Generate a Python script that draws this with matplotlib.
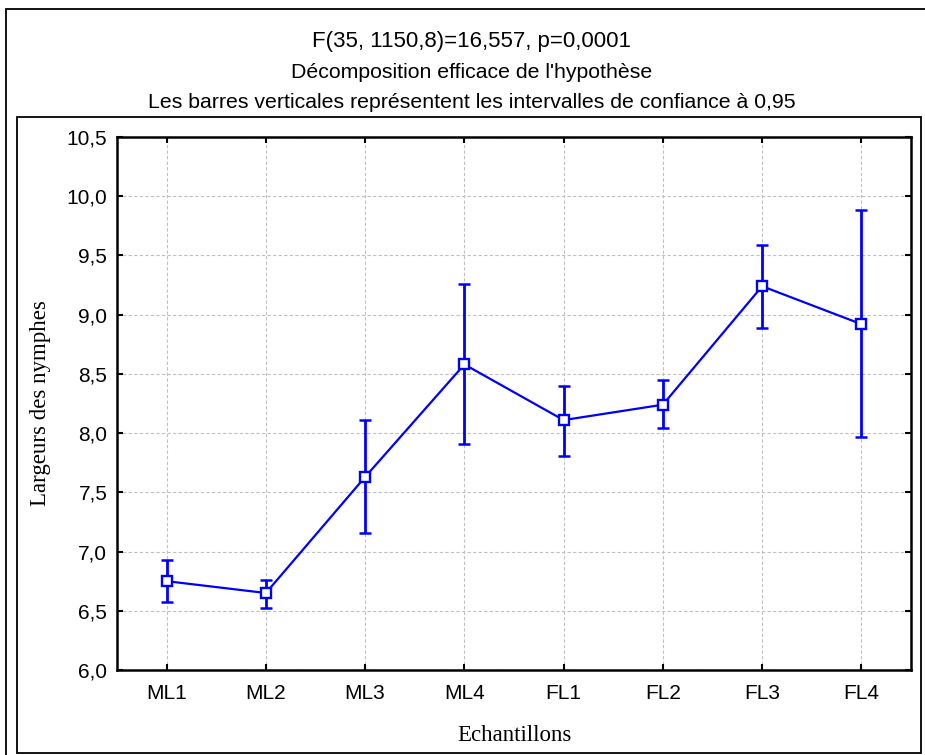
import matplotlib.pyplot as plt
from matplotlib.patches import Rectangle

# group means and 95% confidence limits
groupes = ["ML1", "ML2", "ML3", "ML4", "FL1", "FL2", "FL3", "FL4"]
moyennes = [6.75, 6.65, 7.63, 8.58, 8.11, 8.24, 9.24, 8.92]
bornes_inf = [6.57, 6.52, 7.16, 7.91, 7.81, 8.04, 8.89, 7.97]
bornes_sup = [6.93, 6.76, 8.11, 9.26, 8.40, 8.45, 9.59, 9.88]
y_ticks = [6.0, 6.5, 7.0, 7.5, 8.0, 8.5, 9.0, 9.5, 10.0, 10.5]
y_labels = ["6,0", "6,5", "7,0", "7,5", "8,0", "8,5", "9,0", "9,5", "10,0", "10,5"]

titres = [
    "F(35, 1150,8)=16,557, p=0,0001",
    "Décomposition efficace de l'hypothèse",
    "Les barres verticales représentent les intervalles de confiance à 0,95",
]

sans = "Liberation Sans"
serif = "Liberation Serif"

W, H = 925, 755
fig = plt.figure(figsize=(W / 100, H / 100), dpi=100)

def fx(px):
    return px / W

def fy(py):
    return 1 - py / H

# frames around the whole graph and around the plot area
fig.patches.append(Rectangle((fx(6), fy(770)), fx(940) - fx(6), fy(9) - fy(770),
                             transform=fig.transFigure, fill=False, lw=1.3, ec="black"))
fig.patches.append(Rectangle((fx(17), fy(753)), fx(921) - fx(17), fy(117) - fy(753),
                             transform=fig.transFigure, fill=False, lw=1.3, ec="black"))

for i, t in enumerate(titres):
    fig.text(fx(472), fy(41 + 31 * i), t, ha="center", va="center",
             fontsize=15.3 if i else 16, family=sans)

ax = fig.add_axes([fx(117), fy(670), fx(911) - fx(117), fy(137) - fy(670)])

x = list(range(len(groupes)))
err_bas = [m - b for m, b in zip(moyennes, bornes_inf)]
err_haut = [b - m for m, b in zip(moyennes, bornes_sup)]

ax.errorbar(x, moyennes, yerr=[err_bas, err_haut], fmt="none", ecolor="#0000ff",
            elinewidth=2, capsize=4.5, capthick=1.8, zorder=3)
ax.plot(x, moyennes, color="#0000ff", lw=1.6, marker="s", markersize=7,
        markerfacecolor="white", markeredgecolor="#0000ff", markeredgewidth=1.7, zorder=4)

ax.set_xlim(-0.5, len(groupes) - 0.5)
ax.set_ylim(6.0, 10.5)
ax.set_xticks(x)
ax.set_xticklabels(groupes, family=sans, fontsize=15)
ax.set_yticks(y_ticks)
ax.set_yticklabels(y_labels, family=sans, fontsize=15)
ax.tick_params(direction="in", length=4, width=1.5, top=True, right=True,
               labeltop=False, labelright=False, pad=7)
ax.tick_params(axis="x", pad=10)

ax.grid(True, color="#c0c0c0", linestyle=(0, (3, 2)), lw=0.8)
ax.set_axisbelow(True)
for s in ax.spines.values():
    s.set_linewidth(1.8)

ax.set_xlabel("Echantillons", family=serif, fontsize=16.5, labelpad=16)
ax.set_ylabel("Largeurs des nymphes", family=serif, fontsize=16.5, labelpad=11)

fig.savefig("out.png", dpi=100)
